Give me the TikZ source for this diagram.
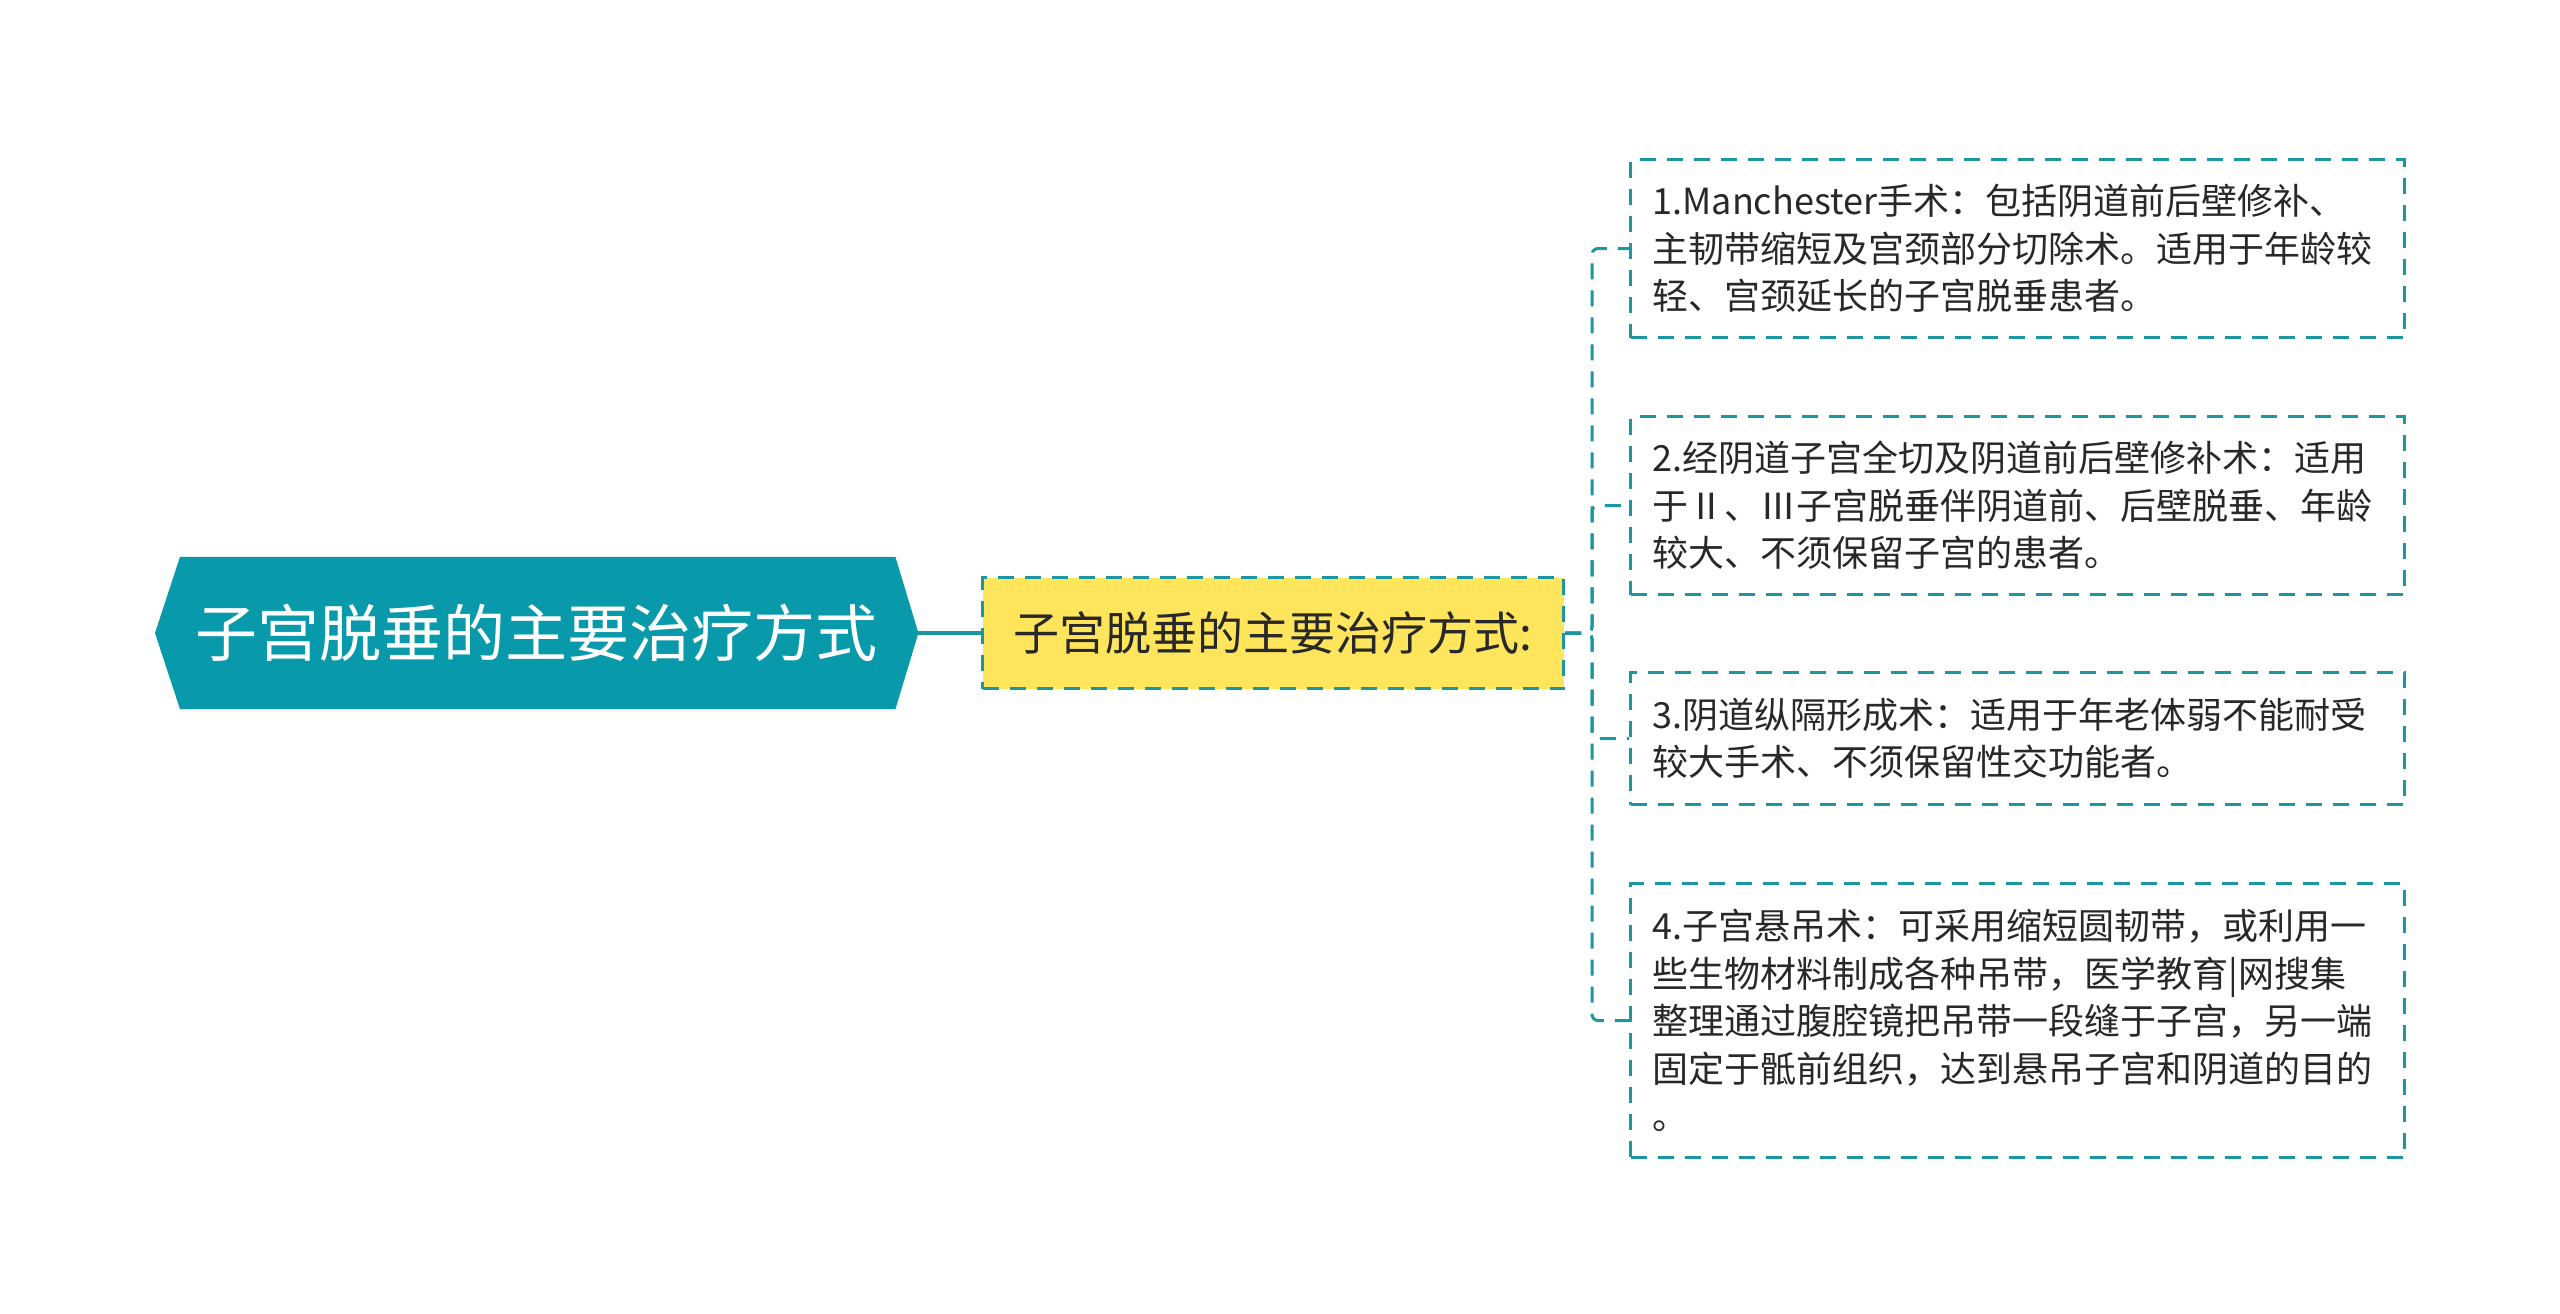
\documentclass[tikz,border=0pt]{standalone}
\usepackage{fontspec}
\setmainfont{Noto Sans CJK SC}
\usetikzlibrary{backgrounds}
\definecolor{rootfill}{RGB}{8,154,170}
\definecolor{teal}{RGB}{28,150,160}
\definecolor{yellowfill}{RGB}{255,229,92}
\definecolor{darktext}{RGB}{40,40,40}
\tikzset{
  dashline/.style={draw=teal, line width=3pt, dash pattern=on 16pt off 11pt},
  childbox/.style={dashline, fill=white, anchor=north west, text width=730pt, inner xsep=22pt, inner ysep=0pt, align=left, text=darktext, font=\fontsize{36}{47.5}\selectfont},
  linkline/.style={draw=teal, line width=3pt, dash pattern=on 16pt off 11pt, rounded corners=6pt},
}
\begin{document}
\begin{tikzpicture}[x=1pt,y=-1pt]
\useasboundingbox (0,0) rectangle (2560,1314);
\begin{scope}[on background layer]
\fill[white] (0,0) rectangle (2560,1314);
\end{scope}
% root
\node[minimum width=763pt, minimum height=152pt, inner sep=0pt, text=white, font=\fontsize{62}{70}\selectfont, anchor=west] (root) at (155,633) {子宫脱垂的主要治疗方式};
\begin{scope}[on background layer]
\fill[rootfill] (root.west) -- ([xshift=25pt]root.north west) -- ([xshift=-23pt]root.north east) -- (root.east) -- ([xshift=-23pt]root.south east) -- ([xshift=25pt]root.south west) -- cycle;
\end{scope}
% level 1
\node[dashline, fill=yellowfill, minimum width=581pt, minimum height=111pt, inner sep=0pt, text=darktext, font=\fontsize{46}{52}\selectfont, anchor=west] (sub) at (981,633) {子宫脱垂的主要治疗方式:};
\draw[teal, line width=4pt] (root.east) -- (sub.west);
% children
\node[childbox, minimum height=178pt] (c1) at (1629,158) {1.Manchester手术：包括阴道前后壁修补、\\主韧带缩短及宫颈部分切除术。适用于年龄较\\轻、宫颈延长的子宫脱垂患者。};
\node[childbox, minimum height=178pt] (c2) at (1629,415) {2.经阴道子宫全切及阴道前后壁修补术：适用\\于Ⅱ、Ⅲ子宫脱垂伴阴道前、后壁脱垂、年龄\\较大、不须保留子宫的患者。};
\node[childbox, minimum height=132pt] (c3) at (1629,671) {3.阴道纵隔形成术：适用于年老体弱不能耐受\\较大手术、不须保留性交功能者。};
\node[childbox, minimum height=274pt] (c4) at (1629,882) {4.子宫悬吊术：可采用缩短圆韧带，或利用一\\些生物材料制成各种吊带，医学教育|网搜集\\整理通过腹腔镜把吊带一段缝于子宫，另一端\\固定于骶前组织，达到悬吊子宫和阴道的目的\\。};
\coordinate (trunk) at (1592,633);
\foreach \c in {c1,c2,c3,c4} {
  \draw[linkline] (sub.east) -- (trunk) |- (\c.west);
}
\end{tikzpicture}
\end{document}
